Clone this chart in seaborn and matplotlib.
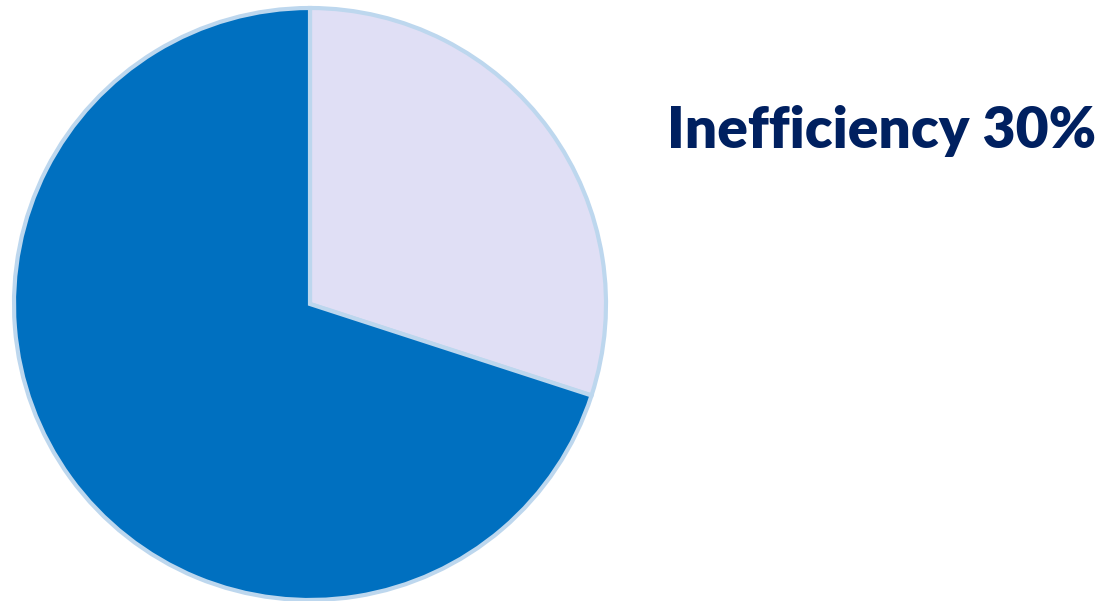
import matplotlib
matplotlib.use("Agg")
import matplotlib.pyplot as plt
import seaborn as sns

categories = ["Inefficiency", "Efficiency"]
values = [30, 70]
colors = ["#E0DFF5", "#0070C0"]
label_text = "Inefficiency 30%"

sns.set_theme(style="white")
plt.rcParams['font.family'] = ['Lato', 'DejaVu Sans']

W, H = 1109, 601
fig = plt.figure(figsize=(W / 100, H / 100), dpi=100)
ax = fig.add_axes([0, 0, 1, 1])
ax.set_xlim(0, W)
ax.set_ylim(0, H)
ax.set_aspect("equal")
ax.axis("off")

ax.pie(values, colors=colors, startangle=90, counterclock=False,
       center=(310, H - 304), radius=296,
       wedgeprops=dict(edgecolor="#BDD7EE", linewidth=3))
ax.set_xlim(0, W)
ax.set_ylim(0, H)

ax.text(667, H - 148, label_text, fontsize=41, fontweight="heavy",
        color="#002060", ha="left", va="baseline")

fig.savefig("out.png", dpi=100)
